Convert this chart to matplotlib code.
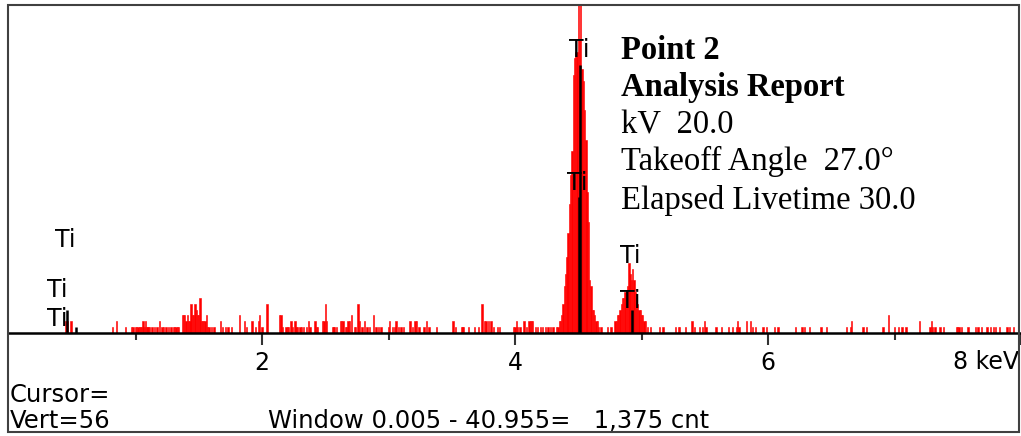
import matplotlib
matplotlib.use('Agg')
import matplotlib.pyplot as plt
from matplotlib.patches import Rectangle

# Spectre EDS (canaux de 10 eV) : (énergie keV, coups)
bruit_bas = [
    (0.45, 2), (0.46, 2), (0.49, 2),
    (0.82, 1), (0.85, 2), (0.92, 1), (0.97, 1), (0.98, 1), (1.00, 1), (1.01, 1),
    (1.02, 1), (1.03, 1), (1.04, 1), (1.05, 1), (1.06, 2), (1.07, 1), (1.08, 2),
    (1.09, 1), (1.10, 1), (1.11, 1), (1.13, 1), (1.15, 1), (1.17, 1), (1.19, 2),
    (1.21, 1), (1.22, 1), (1.24, 1), (1.26, 1), (1.28, 1), (1.30, 1), (1.31, 1),
    (1.32, 1), (1.33, 1), (1.34, 1),
    (1.37, 3), (1.38, 3), (1.39, 3), (1.40, 2), (1.41, 3), (1.42, 2), (1.43, 2),
    (1.44, 5), (1.45, 3), (1.46, 3), (1.47, 5), (1.48, 4), (1.49, 3), (1.50, 3),
    (1.51, 6), (1.52, 2), (1.53, 2), (1.54, 2), (1.55, 2), (1.56, 3), (1.57, 1),
    (1.58, 1), (1.60, 1), (1.62, 1), (1.67, 2), (1.69, 1), (1.71, 1), (1.73, 1),
    (1.76, 1), (1.82, 3), (1.86, 2), (1.88, 1), (1.92, 2), (1.95, 1), (1.97, 2),
    (1.98, 3), (2.00, 1), (2.04, 5), (2.14, 3), (2.15, 3), (2.16, 1), (2.19, 1),
    (2.20, 1), (2.21, 1), (2.23, 2), (2.24, 1), (2.26, 2), (2.27, 1), (2.28, 1),
    (2.30, 1), (2.31, 1), (2.33, 1), (2.35, 1), (2.37, 2), (2.38, 1), (2.42, 2),
    (2.43, 1), (2.44, 1), (2.48, 2), (2.49, 2), (2.50, 5), (2.51, 2), (2.56, 1),
    (2.57, 1), (2.59, 1), (2.62, 2), (2.63, 2), (2.64, 2), (2.66, 1), (2.67, 1),
    (2.68, 2), (2.69, 2), (2.71, 3), (2.73, 1), (2.74, 1), (2.76, 5), (2.77, 2),
    (2.79, 1), (2.81, 2), (2.83, 1), (2.85, 1), (2.88, 3), (2.90, 1), (2.92, 1),
    (2.94, 1), (3.00, 1), (3.01, 2), (3.03, 1), (3.05, 1), (3.06, 2), (3.08, 1),
    (3.10, 1), (3.12, 1), (3.17, 2), (3.19, 1), (3.21, 2), (3.22, 2), (3.24, 1),
    (3.28, 1), (3.30, 2), (3.32, 1), (3.38, 1), (3.51, 2), (3.53, 1), (3.58, 1),
    (3.59, 1), (3.63, 1), (3.68, 1), (3.71, 1), (3.74, 5), (3.76, 2), (3.77, 2),
    (3.79, 2), (3.81, 2), (3.83, 1), (3.86, 1), (3.88, 1), (3.99, 1), (4.00, 1),
    (4.01, 2), (4.02, 1), (4.04, 1), (4.07, 2), (4.09, 1), (4.11, 2), (4.12, 2),
    (4.13, 2), (4.14, 2), (4.16, 1), (4.18, 1), (4.20, 1), (4.22, 1), (4.24, 1),
    (4.26, 1), (4.28, 1), (4.30, 1),
]

pic_ka = [
    (4.33, 1), (4.34, 1), (4.35, 2), (4.36, 2), (4.37, 3), (4.38, 5), (4.39, 8),
    (4.40, 10), (4.41, 13), (4.42, 17), (4.43, 22), (4.44, 27), (4.45, 31),
    (4.46, 44), (4.47, 47), (4.48, 48), (4.49, 48), (4.50, 65), (4.51, 50),
    (4.52, 62), (4.53, 45), (4.54, 43), (4.55, 38), (4.56, 33), (4.57, 24),
    (4.58, 19), (4.59, 9), (4.60, 8), (4.61, 4), (4.62, 4), (4.63, 3), (4.64, 2),
    (4.65, 2), (4.66, 1),
]

pic_kb = [
    (4.68, 1), (4.73, 1), (4.76, 1), (4.79, 2), (4.80, 2), (4.81, 3), (4.82, 3),
    (4.83, 4), (4.84, 5), (4.85, 6), (4.86, 6), (4.87, 7), (4.88, 7), (4.89, 8),
    (4.90, 12), (4.91, 10), (4.92, 9), (4.93, 11), (4.94, 9), (4.95, 7), (4.96, 6),
    (4.97, 5), (4.98, 4), (4.99, 4), (5.00, 3), (5.01, 3), (5.02, 2), (5.03, 2),
    (5.05, 1),
]

bruit_haut = [
    (5.07, 1), (5.14, 1), (5.17, 1), (5.27, 1), (5.29, 1), (5.30, 1), (5.35, 1),
    (5.40, 2), (5.42, 1), (5.46, 1), (5.48, 1), (5.50, 2), (5.51, 1), (5.59, 1),
    (5.63, 1), (5.69, 1), (5.72, 1), (5.75, 1), (5.76, 2), (5.77, 1), (5.83, 2),
    (5.86, 2), (5.88, 1), (5.90, 1), (5.96, 1), (5.99, 1), (6.05, 1), (6.08, 1),
    (6.22, 1), (6.27, 1), (6.29, 1), (6.33, 1), (6.42, 1), (6.46, 1), (6.62, 1),
    (6.65, 1), (6.66, 2), (6.75, 1), (6.78, 1), (6.91, 1), (6.95, 3), (7.00, 1),
    (7.03, 1), (7.06, 1), (7.09, 1), (7.20, 2), (7.28, 1), (7.29, 2), (7.30, 1),
    (7.32, 1), (7.36, 1), (7.39, 1), (7.49, 1), (7.50, 1), (7.51, 1), (7.53, 1),
    (7.58, 1), (7.64, 1), (7.66, 1), (7.69, 1), (7.73, 1), (7.76, 1), (7.78, 1),
    (7.80, 1), (7.83, 1), (7.89, 1), (7.91, 1), (7.94, 1),
]

# Marqueurs des raies du titane (keV, hauteur en coups)
raies_ti_keV = [0.458, 0.53, 4.505, 4.511, 4.928]
raies_ti_cnt = [3.9, 1.0, 23.2, 45.8, 3.9]

# Étiquettes "Ti" (keV, coups) à la ligne de base du texte
etiquettes_ti = [(0.443, 14.7), (0.383, 6.1), (0.383, 1.2),
                 (4.506, 47.1), (4.49, 24.4), (4.915, 12.0), (4.915, 4.3)]

rapport = ['Point 2', 'Analysis Report', 'kV  20.0',
           'Takeoff Angle  27.0°', 'Elapsed Livetime 30.0']

W, H = 1021, 436
fig = plt.figure(figsize=(W / 100, H / 100), dpi=100)
fig.patch.set_facecolor('white')

x0, x1 = 9, 1021
y_base, y_haut = 333, 5
ax = fig.add_axes([x0 / W, 1 - y_base / H, (x1 - x0) / W, (y_base - y_haut) / H])
ax.set_xlim(0, 8)
ax.set_ylim(0, 56)

spectre = bruit_bas + pic_ka + pic_kb + bruit_haut
energies = [e for e, c in spectre]
coups = [c for e, c in spectre]
ax.bar(energies, coups, width=0.0105, color='#ff0000', edgecolor='#ff0000',
       linewidth=0.4, zorder=2)

ax.vlines(raies_ti_keV, 0, raies_ti_cnt, color='black', linewidth=1.8, zorder=3)
for e, c in etiquettes_ti:
    ax.text(e, c, 'Ti', ha='center', va='baseline', fontsize=17, color='black', zorder=4)

for s in ['top', 'left', 'right']:
    ax.spines[s].set_visible(False)
ax.spines['bottom'].set_linewidth(1.8)
ax.spines['bottom'].set_color('black')
ax.spines['bottom'].set_zorder(5)

ax.set_yticks([])
ax.set_xticks([2, 4, 6, 8])
ax.set_xticklabels(['2', '4', '6', ''])
ax.set_xticks([1, 3, 5, 7], minor=True)
ax.tick_params(axis='x', which='major', length=8.6, width=1.5, color='#333333',
               pad=4.5, labelsize=17)
ax.tick_params(axis='x', which='minor', length=5, width=1.5, color='#333333')
ax.text(7.985, -2.95, '8 keV', ha='right', va='top', fontsize=17)
ax.patch.set_alpha(0)

# Cadre extérieur
fig.add_artist(Rectangle((8 / W, 1 - 432 / H), (1019 - 8) / W, (432 - 5) / H,
                         transform=fig.transFigure, fill=False,
                         edgecolor='#404040', linewidth=1.5))

# Bloc de texte du rapport
for i, ligne in enumerate(rapport):
    yb = [59, 96, 133, 170, 209][i]
    fig.text(621 / W, 1 - yb / H, ligne, family='Liberation Serif', fontsize=23.5,
             weight='bold' if i < 2 else 'normal', va='baseline')

fig.text(10 / W, 1 - 402 / H, 'Cursor=', fontsize=17.5, va='baseline')
fig.text(10 / W, 1 - 428 / H, 'Vert=56', fontsize=17.5, va='baseline')
fig.text(268 / W, 1 - 428 / H, 'Window 0.005 - 40.955=   1,375 cnt', fontsize=17.5,
         va='baseline')

fig.savefig('out.png', dpi=100)
